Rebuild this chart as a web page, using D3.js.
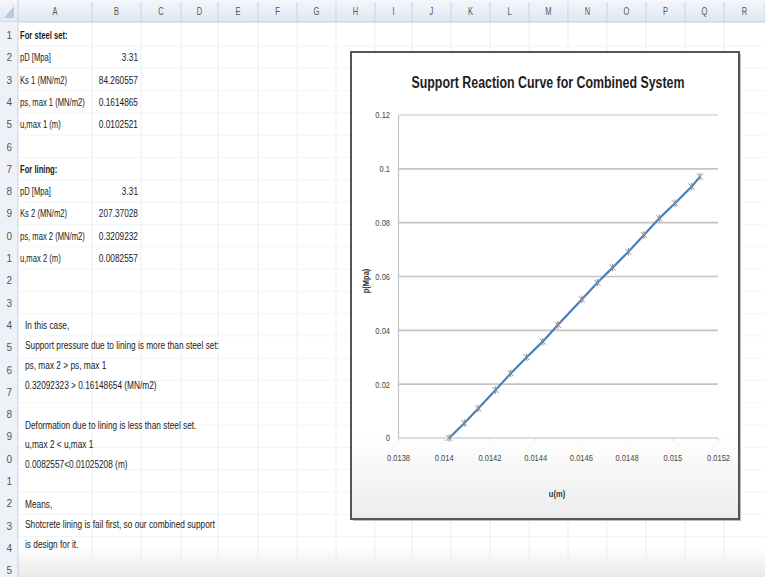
<!DOCTYPE html>
<html>
<head>
<meta charset="utf-8">
<script src="https://cdn.jsdelivr.net/npm/d3@7"></script>
<style>
  body { margin: 0; background: #fff; overflow: hidden; }
  svg { display: block; }
  text { font-family: "Liberation Sans", Arial, sans-serif; }
</style>
</head>
<body>
<div id="sheet"></div>
<script>
// Chart values
const uValues = [0.014024, 0.014090, 0.014151, 0.014227, 0.014293, 0.014363, 0.014433, 0.014499,
  0.014604, 0.014672, 0.014739, 0.014808, 0.014876, 0.014943, 0.015012, 0.015085, 0.015121];
const pValues = [0, 0.0055, 0.0110, 0.0178, 0.0240, 0.0300, 0.0358, 0.0420,
  0.0515, 0.0577, 0.0633, 0.0692, 0.0754, 0.0816, 0.0872, 0.0934, 0.0971];
const xTicks = [0.0138, 0.014, 0.0142, 0.0144, 0.0146, 0.0148, 0.015, 0.0152];
const yTicks = [0, 0.02, 0.04, 0.06, 0.08, 0.1, 0.12];
const chartTitle = "Support Reaction Curve for Combined System";
const xTitle = "u(m)";
const yTitle = "p(Mpa)";

// Spreadsheet contents
const columns = ["A", "B", "C", "D", "E", "F", "G", "H", "I", "J", "K", "L", "M", "N", "O", "P", "Q", "R"];
const steelHead = "For steel set:";
const steelLabels = ["pD [Mpa]", "Ks 1 (MN/m2)", "ps, max 1 (MN/m2)", "u,max 1 (m)"];
const steelValues = ["3.31", "84.260557", "0.1614865", "0.0102521"];
const liningHead = "For lining:";
const liningLabels = ["pD [Mpa]", "Ks 2 (MN/m2)", "ps, max 2 (MN/m2)", "u,max 2 (m)"];
const liningValues = ["3.31", "207.37028", "0.3209232", "0.0082557"];
const notes = [
  "In this case,",
  "Support pressure due to lining is more than steel set:",
  "ps, max 2     > ps, max 1",
  "0.32092323 > 0.16148654 (MN/m2)",
  "",
  "Deformation due to lining is less than steel set.",
  "u,max 2      < u,max 1",
  "0.0082557<0.01025208 (m)",
  "",
  "Means,",
  "Shotcrete lining is fail first, so our combined support",
  "is design for it."
];

const W = 765, H = 577;
const svg = d3.select("#sheet").append("svg").attr("width", W).attr("height", H);
const defs = svg.append("defs");

// squeeze texts horizontally so that a sample string gets a target width (narrow Calibri-like look)
function squeezeFactor(sample, size, weight, target) {
  const t = svg.append("text").attr("font-size", size).attr("font-weight", weight).text(sample);
  const w = t.node().getComputedTextLength();
  t.remove();
  return target / w;
}
function squeeze(sel, k) {
  sel.each(function () {
    const w = this.getComputedTextLength();
    if (w > 0) d3.select(this).attr("textLength", w * k).attr("lengthAdjust", "spacingAndGlyphs");
  });
}

const hdrGrad = defs.append("linearGradient").attr("id", "hdr").attr("x1", 0).attr("y1", 0).attr("x2", 0).attr("y2", 1);
hdrGrad.append("stop").attr("offset", "0%").attr("stop-color", "#f4f7fb");
hdrGrad.append("stop").attr("offset", "100%").attr("stop-color", "#dfe7f2");

const botGrad = defs.append("linearGradient").attr("id", "bot").attr("x1", 0).attr("y1", 0).attr("x2", 0).attr("y2", 1);
botGrad.append("stop").attr("offset", "0%").attr("stop-color", "#ffffff");
botGrad.append("stop").attr("offset", "100%").attr("stop-color", "#e9e9e9");

const chartGrad = defs.append("linearGradient").attr("id", "cbg").attr("x1", 0).attr("y1", 0).attr("x2", 0).attr("y2", 1);
chartGrad.append("stop").attr("offset", "0%").attr("stop-color", "#ffffff");
chartGrad.append("stop").attr("offset", "82%").attr("stop-color", "#ffffff");
chartGrad.append("stop").attr("offset", "100%").attr("stop-color", "#ececec");

// ---- sheet grid ----
const colEdges = [18, 92, 141, 181, 218, 258, 297, 336, 375, 412, 451, 490, 529, 568, 607, 646, 685, 724, 765];
const headerH = 22;
const rowY = r => 35 + (r - 1) * 22.3;

svg.append("rect").attr("x", 0).attr("y", H - 30).attr("width", W).attr("height", 30).attr("fill", "url(#bot)");

const grid = svg.append("g");
colEdges.slice(1, -1).forEach(x => {
  grid.append("line").attr("x1", x).attr("x2", x).attr("y1", headerH).attr("y2", H)
    .attr("stroke", "#eceef2").attr("stroke-width", 1);
});
d3.range(1, 26).forEach(r => {
  grid.append("line").attr("x1", 18).attr("x2", W).attr("y1", rowY(r) + 11).attr("y2", rowY(r) + 11)
    .attr("stroke", "#f3f4f7").attr("stroke-width", 1);
});

// column header
svg.append("rect").attr("x", 0).attr("y", 0).attr("width", W).attr("height", headerH).attr("fill", "url(#hdr)");
svg.append("line").attr("x1", 0).attr("x2", W).attr("y1", headerH).attr("y2", headerH).attr("stroke", "#c5d1e0");
columns.forEach((c, i) => {
  const x0 = colEdges[i], x1 = colEdges[i + 1];
  svg.append("line").attr("x1", x1).attr("x2", x1).attr("y1", 2).attr("y2", headerH)
    .attr("stroke", "#c9d3e0");
  svg.append("text").attr("x", (x0 + x1) / 2).attr("y", 15).attr("text-anchor", "middle")
    .attr("font-size", 10).attr("fill", "#555").attr("transform", `translate(${(x0 + x1) / 2},0) scale(0.75,1) translate(${-(x0 + x1) / 2},0)`)
    .text(c);
});
// corner select-all mark
svg.append("path").attr("d", "M14,6 L14,18 L4,18 Z").attr("fill", "#b9c9de");

// row header
svg.append("rect").attr("x", 0).attr("y", headerH).attr("width", 18).attr("height", H - headerH).attr("fill", "#eef2f8");
svg.append("line").attr("x1", 18).attr("x2", 18).attr("y1", 0).attr("y2", H).attr("stroke", "#c5d1e0");
const rowNums = svg.append("g");
d3.range(1, 26).forEach(r => {
  rowNums.append("text").attr("x", 12).attr("y", rowY(r) + 4).attr("text-anchor", "end")
    .attr("font-size", 10).attr("fill", "#555").text(String(r % 10));
});

// cell text
const kSheet = squeezeFactor(notes[1], 10, "normal", 194);
const cells = svg.append("g").attr("fill", "#1a1a1a").attr("font-size", 10);
const labelCells = svg.append("g").attr("fill", "#1a1a1a").attr("font-size", 10);
labelCells.append("text").attr("x", 20).attr("y", rowY(1) + 4).attr("font-weight", "bold").text(steelHead);
steelLabels.forEach((t, i) => {
  labelCells.append("text").attr("x", 20).attr("y", rowY(i + 2) + 4).text(t);
  cells.append("text").attr("x", 138).attr("y", rowY(i + 2) + 4).attr("text-anchor", "end").text(steelValues[i]);
});
labelCells.append("text").attr("x", 20).attr("y", rowY(7) + 4).attr("font-weight", "bold").text(liningHead);
liningLabels.forEach((t, i) => {
  labelCells.append("text").attr("x", 20).attr("y", rowY(i + 8) + 4).text(t);
  cells.append("text").attr("x", 138).attr("y", rowY(i + 8) + 4).attr("text-anchor", "end").text(liningValues[i]);
});
notes.forEach((t, i) => {
  if (!t) return;
  cells.append("text").attr("x", 25).attr("y", 329 + i * 19.9).text(t);
});
squeeze(cells.selectAll("text"), kSheet);
squeeze(labelCells.selectAll("text"), kSheet * 0.92);

// ---- chart ----
const frame = { x: 351, y: 52, w: 388, h: 467 };
svg.append("rect").attr("x", frame.x + 2).attr("y", frame.y + 2).attr("width", frame.w).attr("height", frame.h)
  .attr("fill", "#bdbdbd");
svg.append("rect").attr("x", frame.x).attr("y", frame.y).attr("width", frame.w).attr("height", frame.h)
  .attr("fill", "url(#cbg)").attr("stroke", "#555").attr("stroke-width", 2);

const x = d3.scaleLinear().domain([0.0138, 0.0152]).range([398, 718]);
const y = d3.scaleLinear().domain([0, 0.12]).range([438, 115]);

const chart = svg.append("g");

chart.append("text").attr("x", 548).attr("y", 88).attr("text-anchor", "middle")
  .attr("font-size", 16).attr("font-weight", "bold").attr("fill", "#1e1e1e")
  .attr("textLength", 273).attr("lengthAdjust", "spacingAndGlyphs").text(chartTitle);

// horizontal gridlines
chart.append("g").selectAll("line").data(yTicks).join("line")
  .attr("x1", x.range()[0]).attr("x2", x.range()[1])
  .attr("y1", d => y(d)).attr("y2", d => y(d))
  .attr("stroke", d => d === 0 ? "#d0d0d0" : "#c4c4c4").attr("stroke-width", d => d === 0.12 ? 1 : 1.6);

const kTick = squeezeFactor("0.0138", 9, "normal", 23);

const yAxis = chart.append("g").attr("transform", `translate(${x.range()[0]},0)`)
  .call(d3.axisLeft(y).tickValues(yTicks).tickSize(0).tickPadding(8).tickFormat(d => String(+d.toFixed(2))));
yAxis.select(".domain").attr("stroke", "#c4c4c4").attr("stroke-width", 1.2);
yAxis.selectAll("text").attr("font-size", 9).attr("fill", "#444").attr("font-family", "'Liberation Sans',sans-serif");
squeeze(yAxis.selectAll("text"), kTick);

const xAxis = chart.append("g").attr("transform", `translate(0,${y(0)})`)
  .call(d3.axisBottom(x).tickValues(xTicks).tickSize(3).tickPadding(14).tickFormat(d => String(+d.toFixed(4))));
xAxis.select(".domain").remove();
xAxis.selectAll("line").attr("stroke", "#d8d8d8");
xAxis.selectAll("text").attr("font-size", 9).attr("fill", "#444").attr("font-family", "'Liberation Sans',sans-serif");
squeeze(xAxis.selectAll("text"), kTick);

const xt = chart.append("text").attr("x", 557).attr("y", 497).attr("text-anchor", "middle")
  .attr("font-size", 9).attr("font-weight", "bold").attr("fill", "#333").text(xTitle);
const yt = chart.append("text").attr("transform", "translate(369,281) rotate(-90)").attr("text-anchor", "middle")
  .attr("font-size", 9).attr("font-weight", "bold").attr("fill", "#333").text(yTitle);
squeeze(xt, kTick);
squeeze(yt, kTick);

const pts = uValues.map((u, i) => ({ u, p: pValues[i] }));
chart.append("path").datum(pts)
  .attr("fill", "none").attr("stroke", "#4a7ebb").attr("stroke-width", 2.2)
  .attr("d", d3.line().x(d => x(d.u)).y(d => y(d.p)));

chart.append("g").selectAll("path").data(pts).join("path")
  .attr("transform", d => `translate(${x(d.u)},${y(d.p)})`)
  .attr("d", "M-3,-3L3,3M-3,3L3,-3M0,-3.8L0,3.8")
  .attr("fill", "none").attr("stroke", "#8a8a8a").attr("stroke-width", 1);
</script>
</body>
</html>
